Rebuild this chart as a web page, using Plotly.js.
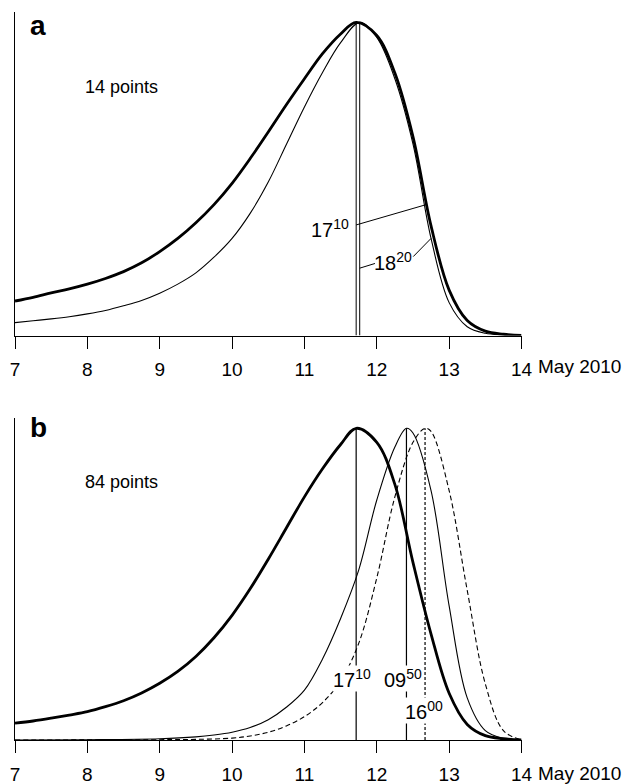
<!DOCTYPE html>
<html><head><meta charset="utf-8">
<script src="https://cdn.plot.ly/plotly-3.0.1.min.js"></script>
<style>html,body{margin:0;padding:0;background:#fff}</style>
</head><body>
<div id="chart" style="width:632px;height:784px"></div>
<script>
// ---------- data (days of May 2010, normalised intensity) ----------
const dayTicks = [7, 8, 9, 10, 11, 12, 13, 14];
const dayTickLabels = ['7', '8', '9', '10', '11', '12', '13', '14'];
const dateSuffix = 'May 2010';
const panelLabels = ['a', 'b'];
const pointLabels = ['14 points', '84 points'];

// panel a
const aThickDays = [7, 7.25, 7.5, 7.75, 8, 8.25, 8.5, 8.75, 9, 9.25, 9.5, 9.75, 10, 10.25, 10.5, 10.75, 11, 11.25, 11.5, 11.715, 12, 12.25, 12.5, 12.75, 13, 13.25, 13.5, 13.75, 14];
const aThickVals = [0.110, 0.122, 0.136, 0.149, 0.164, 0.182, 0.204, 0.232, 0.268, 0.310, 0.360, 0.418, 0.486, 0.565, 0.650, 0.737, 0.820, 0.900, 0.963, 1.0, 0.958, 0.838, 0.635, 0.350, 0.145, 0.048, 0.014, 0.004, 0];
const aThinDays = [7, 7.25, 7.5, 7.75, 8, 8.25, 8.5, 8.75, 9, 9.25, 9.5, 9.75, 10, 10.25, 10.5, 10.75, 11, 11.25, 11.5, 11.764, 12, 12.25, 12.5, 12.75, 13, 13.25, 13.5, 13.75, 14];
const aThinVals = [0.041, 0.047, 0.053, 0.060, 0.069, 0.080, 0.095, 0.112, 0.135, 0.164, 0.200, 0.250, 0.310, 0.390, 0.490, 0.610, 0.730, 0.840, 0.935, 1.0, 0.952, 0.820, 0.612, 0.310, 0.105, 0.028, 0.007, 0.002, 0];
const aPeakDays = [11.715, 11.764];
const aPeakLabels = ['17<sup>10</sup>', '18<sup>20</sup>'];

// panel b
const bThickDays = [7, 7.25, 7.5, 7.75, 8, 8.25, 8.5, 8.75, 9, 9.25, 9.5, 9.75, 10, 10.25, 10.5, 10.75, 11, 11.25, 11.5, 11.715, 12, 12.25, 12.5, 12.75, 13, 13.25, 13.5, 13.75, 14];
const bThickVals = [0.054, 0.061, 0.070, 0.080, 0.091, 0.107, 0.126, 0.151, 0.182, 0.220, 0.268, 0.328, 0.400, 0.485, 0.580, 0.680, 0.780, 0.870, 0.948, 1.0, 0.955, 0.820, 0.570, 0.340, 0.150, 0.050, 0.014, 0.004, 0];
const bThinDays = [7, 8, 9, 9.5, 9.75, 10, 10.25, 10.5, 10.75, 11, 11.25, 11.5, 11.75, 12, 12.25, 12.41, 12.5, 12.75, 13, 13.25, 13.5, 13.75, 14];
const bThinVals = [0, 0.001, 0.004, 0.010, 0.016, 0.025, 0.040, 0.065, 0.105, 0.160, 0.260, 0.390, 0.545, 0.770, 0.940, 1.0, 0.985, 0.800, 0.430, 0.135, 0.030, 0.005, 0];
const bDashDays = [7, 9, 9.5, 10, 10.25, 10.5, 10.75, 11, 11.25, 11.5, 11.75, 12, 12.25, 12.5, 12.667, 12.75, 13, 13.25, 13.5, 13.75, 14];
const bDashVals = [0, 0.001, 0.002, 0.006, 0.013, 0.025, 0.045, 0.075, 0.120, 0.190, 0.310, 0.520, 0.780, 0.955, 1.0, 0.990, 0.800, 0.480, 0.180, 0.030, 0];
const bPeakDays = [11.715, 12.41, 12.667];
const bPeakLabels = ['17<sup>10</sup>', '09<sup>50</sup>', '16<sup>00</sup>'];

// ---------- helpers ----------
const W = 632, H = 784;
const FONT = 'Liberation Sans, Arial, Helvetica, sans-serif';
const py = v => 1 - v / H;
function interp(xs, ys, x) {
  for (let i = 0; i < xs.length - 1; i++) {
    if (x >= xs[i] && x <= xs[i + 1]) {
      const t = (x - xs[i]) / (xs[i + 1] - xs[i]);
      return ys[i] + t * (ys[i + 1] - ys[i]);
    }
  }
  return 0;
}
function curve(x, y, xa, ya, width, dash) {
  return {type: 'scatter', mode: 'lines', x: x, y: y, xaxis: xa, yaxis: ya,
    line: {color: '#000', width: width, dash: dash || 'solid', shape: 'spline', smoothing: 1},
    hoverinfo: 'skip', showlegend: false};
}
function seg(x, y, xa, ya, width, dash) {
  return {type: 'scatter', mode: 'lines', x: x, y: y, xaxis: xa, yaxis: ya,
    line: {color: '#000', width: width, dash: dash || 'solid'},
    hoverinfo: 'skip', showlegend: false};
}
const peakOf = (days, vals, d) => interp(days, vals, d);

const traces = [
  curve(aThickDays, aThickVals, 'x', 'y', 2.8),
  curve(aThinDays, aThinVals, 'x', 'y', 1.1),
  seg([aPeakDays[0], aPeakDays[0]], [0, peakOf(aThickDays, aThickVals, aPeakDays[0])], 'x', 'y', 1),
  seg([aPeakDays[1], aPeakDays[1]], [0, peakOf(aThinDays, aThinVals, aPeakDays[1])], 'x', 'y', 1),
  // leader lines, panel a
  seg([aPeakDays[0], 12.69], [0.353, interp(aThickDays, aThickVals, 12.69)], 'x', 'y', 1),
  seg([aPeakDays[1], 11.975], [0.215, 0.23], 'x', 'y', 1),
  seg([12.504, 12.75], [0.252, interp(aThinDays, aThinVals, 12.75)], 'x', 'y', 1),

  curve(bThickDays, bThickVals, 'x2', 'y2', 2.8),
  curve(bThinDays, bThinVals, 'x2', 'y2', 1.1),
  curve(bDashDays, bDashVals, 'x2', 'y2', 1.1, '5px,3px'),
  seg([bPeakDays[0], bPeakDays[0]], [0, peakOf(bThickDays, bThickVals, bPeakDays[0])], 'x2', 'y2', 1.2),
  seg([bPeakDays[1], bPeakDays[1]], [0, peakOf(bThinDays, bThinVals, bPeakDays[1])], 'x2', 'y2', 1.2),
  seg([bPeakDays[2], bPeakDays[2]], [0, peakOf(bDashDays, bDashVals, bPeakDays[2])], 'x2', 'y2', 1.2, '3px,2px')
];

function xax(anchor) {
  return {domain: [15 / W, 521.5 / W], range: [7, 14], anchor: anchor,
    tickmode: 'array', tickvals: dayTicks, ticktext: dayTickLabels,
    ticks: 'outside', ticklen: 12, tickwidth: 1, tickcolor: '#000',
    ticklabelstandoff: 5,
    showline: true, linecolor: '#000', linewidth: 1,
    showgrid: false, zeroline: false, fixedrange: true,
    tickfont: {family: FONT, size: 19, color: '#000'}};
}
function yax(anchor, top, bottom) {
  return {domain: [py(bottom), py(top)], range: [0, 1.033], anchor: anchor,
    showline: true, linecolor: '#000', linewidth: 1, ticks: '',
    showticklabels: false, showgrid: false, zeroline: false, fixedrange: true};
}

const ann = [];
function txt(o) { ann.push(Object.assign({showarrow: false, borderpad: 0, font: {family: FONT, size: 20, color: '#000'}}, o)); }
// panel letters and point counts
txt({xref: 'paper', yref: 'paper', x: 29 / W, y: py(25.3), xanchor: 'left', yanchor: 'middle', text: '<b>' + panelLabels[0] + '</b>', font: {family: FONT, size: 28, color: '#000'}});
txt({xref: 'paper', yref: 'paper', x: 29 / W, y: py(427.3), xanchor: 'left', yanchor: 'middle', text: '<b>' + panelLabels[1] + '</b>', font: {family: FONT, size: 28, color: '#000'}});
txt({xref: 'paper', yref: 'paper', x: 84 / W, y: py(86.7), xanchor: 'left', yanchor: 'middle', text: pointLabels[0], font: {family: FONT, size: 18, color: '#000'}});
txt({xref: 'paper', yref: 'paper', x: 84 / W, y: py(481.7), xanchor: 'left', yanchor: 'middle', text: pointLabels[1], font: {family: FONT, size: 18, color: '#000'}});
// date suffix after last tick
txt({xref: 'x', yref: 'paper', x: 14, xshift: 15, y: py(367), xanchor: 'left', yanchor: 'middle', text: dateSuffix, font: {family: FONT, size: 19, color: '#000'}});
txt({xref: 'x2', yref: 'paper', x: 14, xshift: 15, y: py(773), xanchor: 'left', yanchor: 'middle', text: dateSuffix, font: {family: FONT, size: 19, color: '#000'}});
// peak time labels
txt({xref: 'x', yref: 'y', x: 11.63, y: 0.342, xanchor: 'right', yanchor: 'middle', text: aPeakLabels[0]});
txt({xref: 'x', yref: 'y', x: 12.22, y: 0.236, xanchor: 'center', yanchor: 'middle', text: aPeakLabels[1]});
txt({xref: 'x2', yref: 'y2', x: 11.653, y: 0.196, xanchor: 'center', yanchor: 'middle', text: bPeakLabels[0], bgcolor: '#fff'});
txt({xref: 'x2', yref: 'y2', x: 12.366, y: 0.196, xanchor: 'center', yanchor: 'middle', text: bPeakLabels[1], bgcolor: '#fff'});
txt({xref: 'x2', yref: 'y2', x: 12.655, y: 0.095, xanchor: 'center', yanchor: 'middle', text: bPeakLabels[2], bgcolor: '#fff'});

const layout = {
  width: W, height: H, margin: {l: 0, r: 0, t: 0, b: 0},
  paper_bgcolor: '#fff', plot_bgcolor: '#fff', showlegend: false,
  font: {family: FONT, color: '#000'},
  xaxis: xax('y'), yaxis: yax('x', 12, 335.5),
  xaxis2: xax('y2'), yaxis2: yax('x2', 418, 740),
  annotations: ann
};
Plotly.newPlot('chart', traces, layout, {staticPlot: true, displayModeBar: false});
</script>
</body></html>
